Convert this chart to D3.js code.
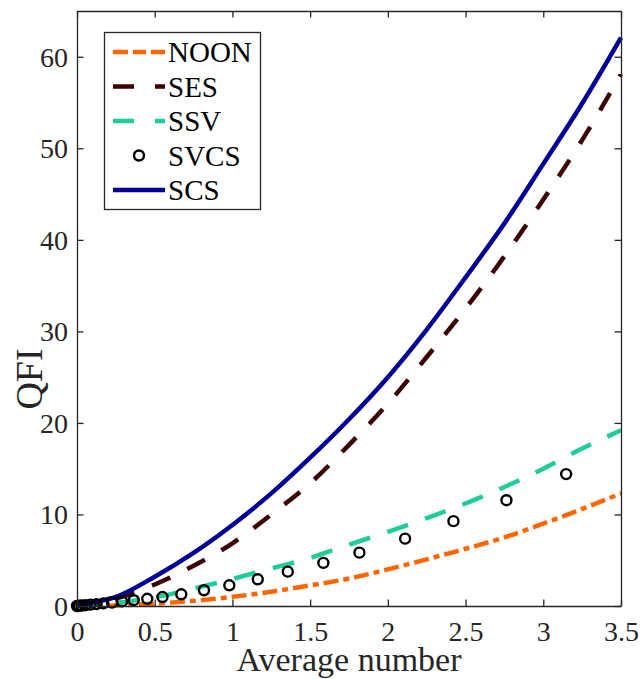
<!DOCTYPE html>
<html>
<head>
<meta charset="utf-8">
<script src="https://cdn.jsdelivr.net/npm/d3@7/dist/d3.min.js"></script>
<style>
  html, body { margin: 0; padding: 0; background: #fff; }
  svg { display: block; }
  svg text { font-family: "Liberation Serif", Tinos, "Times New Roman", Times, "DejaVu Serif", serif !important; }
</style>
</head>
<body>
<div id="chart"></div>
<script>
// ---- Data ----
const seriesNames = ["NOON", "SES", "SSV", "SVCS", "SCS"];

const gridX = [0, 0.25, 0.5, 0.75, 1, 1.25, 1.5, 1.75, 2, 2.25, 2.5, 2.75, 3, 3.25, 3.5];

const noonY = [0, 0.06, 0.25, 0.56, 1.0, 1.56, 2.25, 3.0, 4.0, 5.1, 6.25, 7.5, 9.0, 10.6, 12.3];
const sesY  = [0, 0.8, 2.35, 4.4, 6.85, 10.0, 13.4, 17.6, 22.1, 27.2, 32.5, 38.2, 44.4, 50.9, 58.1];
const ssvY  = [0, 0.35, 0.95, 1.9, 2.95, 4.1, 5.25, 6.7, 8.1, 9.6, 11.2, 13.0, 15.0, 17.2, 19.2];

const scsX = [0, 0.125, 0.25, 0.5, 0.75, 1, 1.25, 1.5, 1.75, 2, 2.25, 2.5, 2.75, 3, 3.25, 3.5];
const scsY = [0, 0.45, 1.0, 3.2, 5.8, 8.85, 12.3, 16.2, 20.4, 25.0, 30.2, 35.9, 41.8, 48.3, 54.9, 62.1];

const svcsX = [0, 0.004, 0.014, 0.03, 0.055, 0.087, 0.125, 0.17, 0.225, 0.29, 0.365, 0.452, 0.55, 0.671, 0.817, 0.98, 1.163, 1.356, 1.585, 1.817, 2.111, 2.422, 2.763, 3.147];
const svcsY = [0, 0.007, 0.024, 0.05, 0.09, 0.15, 0.21, 0.29, 0.38, 0.5, 0.63, 0.79, 0.98, 1.28, 1.72, 2.26, 2.92, 3.75, 4.71, 5.83, 7.36, 9.27, 11.56, 14.41];

const xTicks = [0, 0.5, 1, 1.5, 2, 2.5, 3, 3.5];
const xTickLabels = ["0", "0.5", "1", "1.5", "2", "2.5", "3", "3.5"];
const yTicks = [0, 10, 20, 30, 40, 50, 60];
const yTickLabels = ["0", "10", "20", "30", "40", "50", "60"];

// ---- Layout ----
const W = 641, H = 679;
const pL = 77, pR = 621, pT = 11, pB = 606;
const axisColor = "#262626";

const svg = d3.select("#chart").append("svg")
  .attr("width", W).attr("height", H);

const x = d3.scaleLinear().domain([0, 3.5]).range([pL, pR]);
const y = d3.scaleLinear().domain([0, 65]).range([pB, pT]);

svg.append("rect").attr("x", pL).attr("y", pT)
  .attr("width", pR - pL).attr("height", pB - pT)
  .attr("fill", "#fff");

const zip = (xs, ys) => xs.map((v, i) => [v, ys[i]]);
const line = d3.line().x(d => x(d[0])).y(d => y(d[1])).curve(d3.curveMonotoneX);

const styles = {
  NOON: { color: "#ff6600", dash: "15,5,6,5", width: 4.5 },
  SES:  { color: "#3d0000", dash: "20,19", width: 4.5 },
  SSV:  { color: "#1ecc9c", dash: "22,18", width: 4.5 },
  SCS:  { color: "#000099", dash: null, width: 4.5 }
};

const plot = svg.append("g");
plot.append("clipPath").attr("id", "clip").append("rect")
  .attr("x", pL).attr("y", pT).attr("width", pR - pL + 3).attr("height", pB - pT + 3);

const lines = plot.append("g").attr("clip-path", "url(#clip)");

function drawLine(name, xs, ys) {
  const s = styles[name];
  lines.append("path").datum(zip(xs, ys))
    .attr("d", line)
    .attr("fill", "none")
    .attr("stroke", s.color)
    .attr("stroke-width", s.width)
    .attr("stroke-dasharray", s.dash)
    .attr("stroke-linejoin", "round");
}

drawLine("NOON", gridX, noonY);
drawLine("SES", gridX, sesY);
drawLine("SSV", gridX, ssvY);

plot.append("g").selectAll("circle").data(zip(svcsX, svcsY)).join("circle")
  .attr("cx", d => x(d[0])).attr("cy", d => y(d[1]))
  .attr("r", 5).attr("fill", "none")
  .attr("stroke", "#000").attr("stroke-width", 2.4);

drawLine("SCS", scsX, scsY);

// ---- Axes (box with inward ticks) ----
const tickLen = 6.5;
const axisG = svg.append("g");

const xAxisB = d3.axisBottom(x).tickValues(xTicks).tickSizeInner(-tickLen).tickSizeOuter(0)
  .tickFormat((d, i) => xTickLabels[i]).tickPadding(15);
const gxb = axisG.append("g").attr("transform", `translate(0,${pB})`).call(xAxisB);
const xAxisT = d3.axisTop(x).tickValues(xTicks).tickSizeInner(-tickLen).tickSizeOuter(0).tickFormat("");
const gxt = axisG.append("g").attr("transform", `translate(0,${pT})`).call(xAxisT);

const yAxisL = d3.axisLeft(y).tickValues(yTicks).tickSizeInner(-tickLen).tickSizeOuter(0)
  .tickFormat((d, i) => yTickLabels[i]).tickPadding(9);
const gyl = axisG.append("g").attr("transform", `translate(${pL},0)`).call(yAxisL);
const yAxisR = d3.axisRight(y).tickValues(yTicks).tickSizeInner(-tickLen).tickSizeOuter(0).tickFormat("");
const gyr = axisG.append("g").attr("transform", `translate(${pR},0)`).call(yAxisR);

[gxb, gxt, gyl, gyr].forEach(g => {
  g.attr("font-family", null);
  g.select(".domain").attr("stroke", axisColor).attr("stroke-width", 1.3);
  g.selectAll(".tick line").attr("stroke", axisColor).attr("stroke-width", 1.3);
  g.selectAll(".tick text").attr("fill", axisColor).style("font-size", "28px");
});
gxb.selectAll(".tick text").attr("dy", "0.71em");
gyl.selectAll(".tick text").attr("dy", "0.34em");

svg.append("text")
  .attr("x", (pL + pR) / 2).attr("y", 671)
  .attr("text-anchor", "middle")
  .attr("fill", axisColor)
  .style("font-size", "34px")
  .text("Average number");

svg.append("text")
  .attr("transform", "translate(42,379) rotate(-90)")
  .attr("text-anchor", "middle")
  .attr("fill", axisColor)
  .style("font-size", "38px")
  .text("QFI");

// ---- Legend ----
const lg = svg.append("g");
lg.append("rect").attr("x", 104.5).attr("y", 32.5).attr("width", 156).attr("height", 177)
  .attr("fill", "#fff").attr("stroke", axisColor).attr("stroke-width", 1.3);

const rowY = [52, 86.5, 121, 155.5, 190];
seriesNames.forEach((name, i) => {
  const yy = rowY[i];
  if (name === "SVCS") {
    lg.append("circle").attr("cx", 139).attr("cy", yy).attr("r", 5)
      .attr("fill", "none").attr("stroke", "#000").attr("stroke-width", 2.4);
  } else {
    const s = styles[name];
    lg.append("line").attr("x1", 113).attr("x2", 165).attr("y1", yy).attr("y2", yy)
      .attr("stroke", s.color).attr("stroke-width", s.width)
      .attr("stroke-dasharray", name === "NOON" ? "15,5,13,5" : (name === "SCS" ? null : "21,21"));
  }
  lg.append("text").attr("x", 168).attr("y", yy).attr("dy", "0.35em")
    .attr("fill", "#000")
    .style("font-size", "29px")
    .text(name);
});
</script>
</body>
</html>
